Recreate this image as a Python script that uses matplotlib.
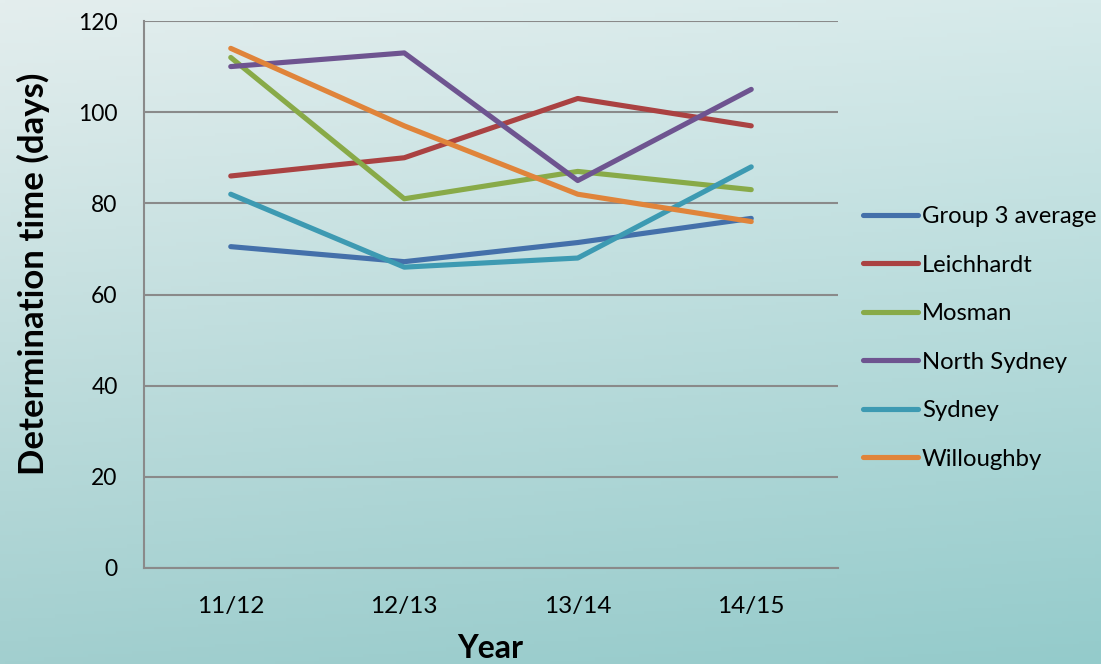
import numpy as np
import matplotlib
matplotlib.use("Agg")
import matplotlib.pyplot as plt

years = ["11/12", "12/13", "13/14", "14/15"]
series_names = ["Group 3 average", "Leichhardt", "Mosman", "North Sydney", "Sydney", "Willoughby"]
group3_average = [70.5, 67.2, 71.4, 76.7]
leichhardt = [86, 90, 103, 97]
mosman = [112, 81, 87, 83]
north_sydney = [110, 113, 85, 105]
sydney = [82, 66, 68, 88]
willoughby = [114, 97, 82, 76]
y_ticks = [0, 20, 40, 60, 80, 100, 120]

values = [group3_average, leichhardt, mosman, north_sydney, sydney, willoughby]
colors = ["#4470aa", "#aa4242", "#88aa48", "#6e5490", "#3d9ab2", "#e0843a"]

plt.rcParams['font.family'] = ['Lato', 'DejaVu Sans']

W, H = 1101, 664
fig = plt.figure(figsize=(W / 100, H / 100), dpi=100)

# background gradient
bg = fig.add_axes([0, 0, 1, 1], zorder=-10)
tl = np.array([228, 238, 238]) / 255
tr = np.array([214, 234, 234]) / 255
bl = np.array([162, 207, 207]) / 255
br = np.array([148, 203, 203]) / 255
yy, xx = np.mgrid[0:1:200j, 0:1:200j]
img = (tl[None, None, :] * ((1 - xx) * (1 - yy))[..., None]
       + tr[None, None, :] * (xx * (1 - yy))[..., None]
       + bl[None, None, :] * ((1 - xx) * yy)[..., None]
       + br[None, None, :] * (xx * yy)[..., None])
bg.imshow(img, aspect='auto', extent=[0, 1, 0, 1], origin='upper')
bg.set_axis_off()

ax = fig.add_axes([144 / W, 1 - 568 / H, (838 - 144) / W, (568 - 21) / H])
ax.set_facecolor('none')

x = np.arange(len(years))
for name, vals, c in zip(series_names, values, colors):
    ax.plot(x, vals, color=c, lw=3.7, label=name, solid_capstyle='round', zorder=3)

ax.set_xlim(-0.5, len(years) - 0.5)
ax.set_ylim(0, 120)
ax.set_yticks(y_ticks)
ax.set_xticks(x)
ax.set_xticklabels(years)
ax.grid(axis='y', color='#8a8a8a', lw=1.5)
ax.set_axisbelow(True)
for s in ['top', 'right']:
    ax.spines[s].set_visible(False)
for s in ['left', 'bottom']:
    ax.spines[s].set_color('#8a8a8a')
    ax.spines[s].set_linewidth(1.5)
ax.tick_params(axis='both', length=0, colors='black')
ax.tick_params(axis='y', pad=19, labelsize=16.5)
ax.tick_params(axis='x', pad=20, labelsize=17.5)

ax.set_ylabel("Determination time (days)", fontsize=25, fontweight='bold')
ax.yaxis.set_label_coords((33 - 144) / 694, (568 - 274) / 547)
ax.yaxis.label.set_va('center')
ax.set_xlabel("Year", fontsize=23, fontweight='bold')
ax.xaxis.set_label_coords((490 - 144) / 694, -(648 - 568) / 547)
ax.xaxis.label.set_va('center')

leg = ax.legend(loc='center left', bbox_to_anchor=((863 - 144) / 694, (568 - 338) / 547),
                frameon=False, fontsize=17.2, handlelength=2.3, handletextpad=0.17,
                labelspacing=1.15, borderaxespad=0, borderpad=0)

fig.savefig("out.png", dpi=100)
